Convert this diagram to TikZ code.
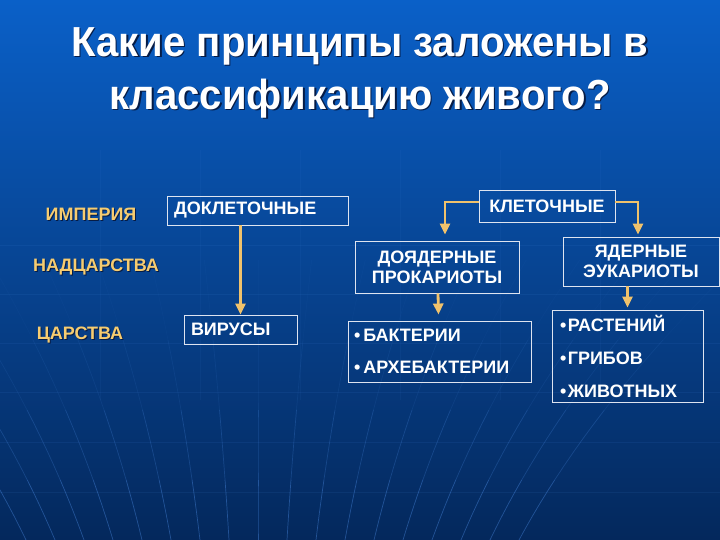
\documentclass[tikz,border=0pt]{standalone}
\usepackage{fontspec}
\setmainfont{Liberation Sans}
\usetikzlibrary{arrows.meta,calc}
\definecolor{bgtop}{RGB}{10,96,200}
\definecolor{bgmid}{RGB}{8,74,165}
\definecolor{bgbot}{RGB}{4,40,92}
\definecolor{gold}{RGB}{246,204,112}
\definecolor{arrc}{RGB}{240,194,108}
\definecolor{boxline}{RGB}{222,228,240}
\definecolor{shadowc}{RGB}{6,28,70}
\definecolor{gridc}{RGB}{80,145,235}
\newcommand\shadowed[2][1pt]{\leavevmode\rlap{\kern#1\raisebox{-#1}{\textcolor{shadowc}{#2}}}#2}
\begin{document}
\begin{tikzpicture}[x=1pt,y=-1pt,
  title/.style={text=white,font=\bfseries\fontsize{42}{48}\selectfont,inner sep=0pt},
  lbl/.style={text=gold,font=\bfseries\fontsize{18}{20}\selectfont,inner sep=0pt},
  bx/.style={draw=boxline,line width=0.9pt,text=white,font=\bfseries\fontsize{18}{20}\selectfont,inner ysep=0pt},
  arr/.style={draw=arrc,line width=2.8pt,-{Triangle[length=11pt,width=10pt]}},
  gridline/.style={draw=gridc,line width=0.7pt}]
\useasboundingbox (0,0) rectangle (720,540);
\shade[top color=bgtop,middle color=bgmid,bottom color=bgbot] (0,0) rectangle (720,540);
% faint grid
\foreach \yy in {245,294,343,392,442,492}{\draw[gridline,opacity=.09] (0,\yy) -- (720,\yy);}
\foreach \xx in {100,200,300,400,500,600}{\draw[gridline,opacity=.06] (\xx,150) -- (\xx,400);}
% fan lines
\foreach \k in {-9,...,9}{
  \draw[gridline,opacity=.40] plot[domain=0:0.6,samples=6] ({258+\k*(29+6*\x+\x*\x)},{540-100*\x});
  \draw[gridline,opacity=.24] plot[domain=0.6:1.3,samples=6] ({258+\k*(29+6*\x+\x*\x)},{540-100*\x});
  \draw[gridline,opacity=.10] plot[domain=1.3:2.0,samples=6] ({258+\k*(29+6*\x+\x*\x)},{540-100*\x});
  \draw[gridline,opacity=.04] plot[domain=2.0:2.8,samples=6] ({258+\k*(29+6*\x+\x*\x)},{540-100*\x});
}
% title
\node[title] (t1) at (360,47) {\scalebox{0.955}[1]{\shadowed[1.5pt]{Какие принципы заложены в}}};
\node[title] (t2) at (360,99) {\scalebox{0.955}[1]{\shadowed[1.5pt]{классификацию живого?}}};
% level labels
\node[lbl] (imp) at (91,215) {\shadowed{ИМПЕРИЯ}};
\node[lbl] (nad) at (96,268) {\shadowed{НАДЦАРСТВА}};
\node[lbl] (car) at (80,336) {\shadowed{ЦАРСТВА}};
% boxes
\node[bx,inner xsep=7pt,text width=167pt,minimum height=29pt,align=left] (dokl) at (257.5,210.5) {ДОКЛЕТОЧНЫЕ};
\node[bx,inner xsep=7pt,text width=99pt,minimum height=29pt,align=left] (vir) at (240.5,329.5) {ВИРУСЫ};
\node[bx,inner xsep=0pt,text width=136pt,minimum height=32pt,align=center] (klet) at (547,206) {КЛЕТОЧНЫЕ};
\node[bx,inner xsep=0pt,text width=164pt,minimum height=52pt,align=center] (doy) at (437,267) {ДОЯДЕРНЫЕ\\ПРОКАРИОТЫ};
\node[bx,inner xsep=0pt,text width=156pt,minimum height=49pt,align=center] (yad) at (641,261.5) {ЯДЕРНЫЕ\\ЭУКАРИОТЫ};
\node[bx,inner xsep=6pt,text width=171pt,minimum height=61pt,align=left,font=\bfseries\fontsize{18}{32}\selectfont] (bak) at (439.5,351.5) {•\hspace{3pt}БАКТЕРИИ\\•\hspace{3pt}АРХЕБАКТЕРИИ};
\node[bx,inner xsep=8pt,text width=135pt,minimum height=92pt,align=left,font=\bfseries\fontsize{18}{33}\selectfont] (ras) at (627.5,356) {•\hspace{1.5pt}РАСТЕНИЙ\\•\hspace{1.5pt}ГРИБОВ\\•\hspace{1.5pt}ЖИВОТНЫХ};
% connectors
\draw[arr] (vir.north |- dokl.south) -- (vir.north);
\draw[arr] ($(klet.west)+(0,-4)$) -| ($(doy.north)+(8,-6)$);
\draw[arr] ($(klet.east)+(0,-4)$) -| ($(yad.north)+(-3,-2)$);
\draw[arr] ($(doy.south)+(1,0)$) -- ($(bak.north)+(-1,-6)$);
\draw[arr] (ras.north |- yad.south) -- ($(ras.north)+(0,-2)$);
\end{tikzpicture}
\end{document}
